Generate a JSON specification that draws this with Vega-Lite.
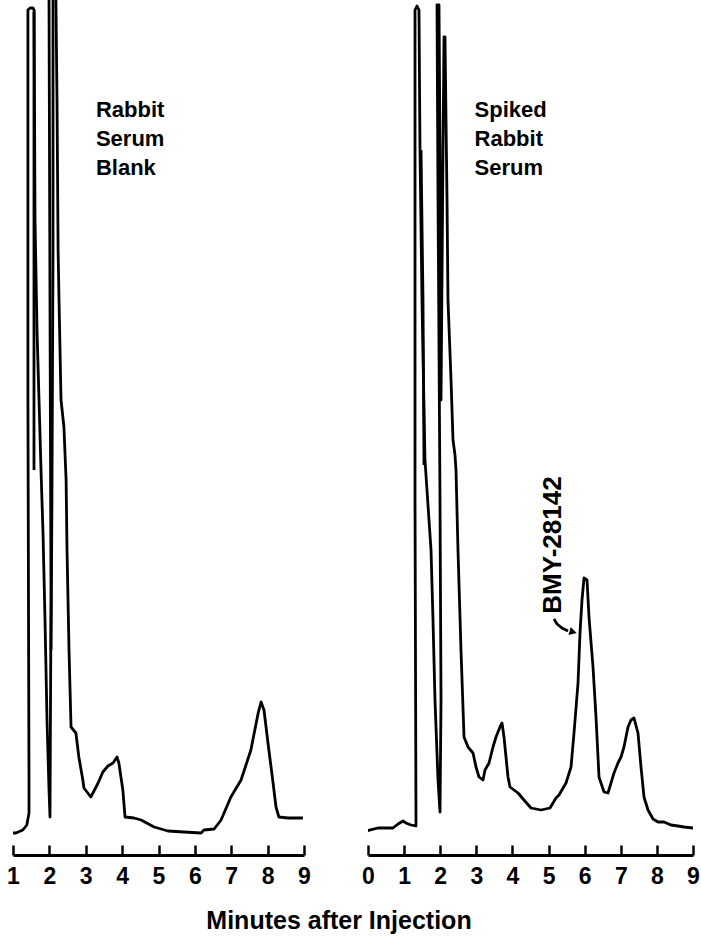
{
  "$schema": "https://vega.github.io/schema/vega-lite/v6.json",
  "padding": {"left": 6, "top": 0, "right": 0, "bottom": 0},
  "background": "white",
  "config": {
    "view": {"stroke": null},
    "axis": {
      "grid": false,
      "domainColor": "black",
      "domainWidth": 3,
      "tickColor": "black",
      "tickWidth": 2.5,
      "tickSize": -10,
      "labelFont": "Liberation Sans",
      "labelFontSize": 23,
      "labelFontWeight": "bold",
      "labelColor": "black",
      "labelPadding": 20,
      "labelFlush": false,
      "labelOverlap": false,
      "title": null
    }
  },
  "title": {
    "text": "Minutes after Injection",
    "orient": "bottom",
    "anchor": "middle",
    "font": "Liberation Sans",
    "fontSize": 25,
    "fontWeight": "bold",
    "color": "black",
    "offset": 21,
    "dx": -14
  },
  "datasets": {
    "blank": [
      {"seg": "m", "i": 1, "t": 0.86, "r": 22},
      {"seg": "m", "i": 2, "t": 1.08, "r": 22},
      {"seg": "m", "i": 3, "t": 1.27, "r": 25},
      {"seg": "m", "i": 4, "t": 1.38, "r": 30},
      {"seg": "m", "i": 5, "t": 1.44, "r": 42},
      {"seg": "m", "i": 6, "t": 1.44, "r": 72},
      {"seg": "m", "i": 7, "t": 1.41, "r": 455},
      {"seg": "m", "i": 8, "t": 1.41, "r": 845},
      {"seg": "m", "i": 9, "t": 1.47, "r": 847},
      {"seg": "m", "i": 10, "t": 1.55, "r": 847},
      {"seg": "m", "i": 11, "t": 1.58, "r": 845},
      {"seg": "m", "i": 12, "t": 1.605, "r": 635},
      {"seg": "m", "i": 13, "t": 1.66, "r": 525},
      {"seg": "m", "i": 14, "t": 1.715, "r": 455},
      {"seg": "m", "i": 15, "t": 1.77, "r": 385},
      {"seg": "m", "i": 16, "t": 1.825, "r": 322},
      {"seg": "m", "i": 17, "t": 1.88, "r": 235},
      {"seg": "m", "i": 18, "t": 1.935, "r": 135},
      {"seg": "m", "i": 19, "t": 1.99, "r": 65},
      {"seg": "m", "i": 20, "t": 2.017, "r": 38},
      {"seg": "m", "i": 21, "t": 2.045, "r": 255},
      {"seg": "m", "i": 22, "t": 2.017, "r": 555},
      {"seg": "m", "i": 23, "t": 1.99, "r": 855},
      {"seg": "m", "i": 24, "t": 1.99, "r": 885},
      {"seg": "m", "i": 25, "t": 2.18, "r": 885},
      {"seg": "m", "i": 26, "t": 2.18, "r": 855},
      {"seg": "m", "i": 27, "t": 2.21, "r": 755},
      {"seg": "m", "i": 28, "t": 2.24, "r": 605},
      {"seg": "m", "i": 29, "t": 2.265, "r": 555},
      {"seg": "m", "i": 30, "t": 2.32, "r": 455},
      {"seg": "m", "i": 31, "t": 2.40, "r": 428},
      {"seg": "m", "i": 32, "t": 2.46, "r": 375},
      {"seg": "m", "i": 33, "t": 2.485, "r": 305},
      {"seg": "m", "i": 34, "t": 2.54, "r": 205},
      {"seg": "m", "i": 35, "t": 2.595, "r": 128},
      {"seg": "m", "i": 36, "t": 2.73, "r": 122},
      {"seg": "m", "i": 37, "t": 2.81, "r": 98},
      {"seg": "m", "i": 38, "t": 2.92, "r": 75},
      {"seg": "m", "i": 39, "t": 2.95, "r": 67},
      {"seg": "m", "i": 40, "t": 3.14, "r": 58},
      {"seg": "m", "i": 41, "t": 3.34, "r": 72},
      {"seg": "m", "i": 42, "t": 3.47, "r": 83},
      {"seg": "m", "i": 43, "t": 3.61, "r": 89},
      {"seg": "m", "i": 44, "t": 3.75, "r": 92},
      {"seg": "m", "i": 45, "t": 3.86, "r": 98},
      {"seg": "m", "i": 46, "t": 3.91, "r": 92},
      {"seg": "m", "i": 47, "t": 4.02, "r": 65},
      {"seg": "m", "i": 48, "t": 4.08, "r": 38},
      {"seg": "m", "i": 49, "t": 4.33, "r": 37},
      {"seg": "m", "i": 50, "t": 4.52, "r": 35},
      {"seg": "m", "i": 51, "t": 4.88, "r": 28},
      {"seg": "m", "i": 52, "t": 5.26, "r": 24},
      {"seg": "m", "i": 53, "t": 5.70, "r": 23},
      {"seg": "m", "i": 54, "t": 6.17, "r": 22},
      {"seg": "m", "i": 55, "t": 6.25, "r": 25},
      {"seg": "m", "i": 56, "t": 6.53, "r": 26},
      {"seg": "m", "i": 57, "t": 6.72, "r": 35},
      {"seg": "m", "i": 58, "t": 6.99, "r": 58},
      {"seg": "m", "i": 59, "t": 7.27, "r": 75},
      {"seg": "m", "i": 60, "t": 7.54, "r": 105},
      {"seg": "m", "i": 61, "t": 7.74, "r": 142},
      {"seg": "m", "i": 62, "t": 7.82, "r": 153},
      {"seg": "m", "i": 63, "t": 7.90, "r": 145},
      {"seg": "m", "i": 64, "t": 8.01, "r": 112},
      {"seg": "m", "i": 65, "t": 8.15, "r": 72},
      {"seg": "m", "i": 66, "t": 8.23, "r": 48},
      {"seg": "m", "i": 67, "t": 8.31, "r": 38},
      {"seg": "m", "i": 68, "t": 8.56, "r": 37},
      {"seg": "m", "i": 69, "t": 8.97, "r": 37},
      {"seg": "p1b", "i": 1, "t": 1.577, "r": 843},
      {"seg": "p1b", "i": 2, "t": 1.577, "r": 385},
      {"seg": "p2b", "i": 1, "t": 2.10, "r": 885},
      {"seg": "p2b", "i": 2, "t": 2.10, "r": 605},
      {"seg": "p2b", "i": 3, "t": 2.07, "r": 355},
      {"seg": "p2b", "i": 4, "t": 2.045, "r": 205}
    ],
    "spiked": [
      {"seg": "m", "i": 1, "t": -0.055, "r": 24},
      {"seg": "m", "i": 2, "t": 0.277, "r": 27},
      {"seg": "m", "i": 3, "t": 0.692, "r": 27},
      {"seg": "m", "i": 4, "t": 0.831, "r": 31},
      {"seg": "m", "i": 5, "t": 0.969, "r": 34},
      {"seg": "m", "i": 6, "t": 1.052, "r": 32},
      {"seg": "m", "i": 7, "t": 1.191, "r": 30},
      {"seg": "m", "i": 8, "t": 1.329, "r": 29},
      {"seg": "m", "i": 9, "t": 1.302, "r": 355},
      {"seg": "m", "i": 10, "t": 1.302, "r": 845},
      {"seg": "m", "i": 11, "t": 1.357, "r": 849},
      {"seg": "m", "i": 12, "t": 1.412, "r": 845},
      {"seg": "m", "i": 13, "t": 1.440, "r": 705},
      {"seg": "m", "i": 14, "t": 1.495, "r": 555},
      {"seg": "m", "i": 15, "t": 1.578, "r": 395},
      {"seg": "m", "i": 16, "t": 1.689, "r": 335},
      {"seg": "m", "i": 17, "t": 1.745, "r": 305},
      {"seg": "m", "i": 18, "t": 1.800, "r": 235},
      {"seg": "m", "i": 19, "t": 1.855, "r": 155},
      {"seg": "m", "i": 20, "t": 1.939, "r": 75},
      {"seg": "m", "i": 21, "t": 1.994, "r": 43},
      {"seg": "m", "i": 22, "t": 2.022, "r": 155},
      {"seg": "m", "i": 23, "t": 1.994, "r": 355},
      {"seg": "m", "i": 24, "t": 1.939, "r": 655},
      {"seg": "m", "i": 25, "t": 1.911, "r": 850},
      {"seg": "m", "i": 26, "t": 1.966, "r": 850},
      {"seg": "m", "i": 27, "t": 1.994, "r": 705},
      {"seg": "m", "i": 28, "t": 2.022, "r": 455},
      {"seg": "m", "i": 29, "t": 2.077, "r": 705},
      {"seg": "m", "i": 30, "t": 2.105, "r": 818},
      {"seg": "m", "i": 31, "t": 2.132, "r": 818},
      {"seg": "m", "i": 32, "t": 2.188, "r": 655},
      {"seg": "m", "i": 33, "t": 2.215, "r": 555},
      {"seg": "m", "i": 34, "t": 2.299, "r": 475},
      {"seg": "m", "i": 35, "t": 2.354, "r": 415},
      {"seg": "m", "i": 36, "t": 2.409, "r": 400},
      {"seg": "m", "i": 37, "t": 2.437, "r": 385},
      {"seg": "m", "i": 38, "t": 2.492, "r": 305},
      {"seg": "m", "i": 39, "t": 2.575, "r": 205},
      {"seg": "m", "i": 40, "t": 2.659, "r": 118},
      {"seg": "m", "i": 41, "t": 2.769, "r": 108},
      {"seg": "m", "i": 42, "t": 2.908, "r": 102},
      {"seg": "m", "i": 43, "t": 2.991, "r": 88},
      {"seg": "m", "i": 44, "t": 3.074, "r": 78},
      {"seg": "m", "i": 45, "t": 3.185, "r": 75},
      {"seg": "m", "i": 46, "t": 3.240, "r": 85},
      {"seg": "m", "i": 47, "t": 3.351, "r": 92},
      {"seg": "m", "i": 48, "t": 3.462, "r": 108},
      {"seg": "m", "i": 49, "t": 3.545, "r": 118},
      {"seg": "m", "i": 50, "t": 3.655, "r": 128},
      {"seg": "m", "i": 51, "t": 3.711, "r": 132},
      {"seg": "m", "i": 52, "t": 3.766, "r": 118},
      {"seg": "m", "i": 53, "t": 3.877, "r": 78},
      {"seg": "m", "i": 54, "t": 3.932, "r": 68},
      {"seg": "m", "i": 55, "t": 4.154, "r": 62},
      {"seg": "m", "i": 56, "t": 4.320, "r": 55},
      {"seg": "m", "i": 57, "t": 4.514, "r": 47},
      {"seg": "m", "i": 58, "t": 4.791, "r": 45},
      {"seg": "m", "i": 59, "t": 5.040, "r": 47},
      {"seg": "m", "i": 60, "t": 5.206, "r": 57},
      {"seg": "m", "i": 61, "t": 5.289, "r": 60},
      {"seg": "m", "i": 62, "t": 5.483, "r": 72},
      {"seg": "m", "i": 63, "t": 5.622, "r": 88},
      {"seg": "m", "i": 64, "t": 5.705, "r": 122},
      {"seg": "m", "i": 65, "t": 5.816, "r": 172},
      {"seg": "m", "i": 66, "t": 5.871, "r": 222},
      {"seg": "m", "i": 67, "t": 5.926, "r": 255},
      {"seg": "m", "i": 68, "t": 5.982, "r": 277},
      {"seg": "m", "i": 69, "t": 6.065, "r": 275},
      {"seg": "m", "i": 70, "t": 6.120, "r": 238},
      {"seg": "m", "i": 71, "t": 6.231, "r": 188},
      {"seg": "m", "i": 72, "t": 6.314, "r": 138},
      {"seg": "m", "i": 73, "t": 6.397, "r": 78},
      {"seg": "m", "i": 74, "t": 6.536, "r": 63},
      {"seg": "m", "i": 75, "t": 6.646, "r": 62},
      {"seg": "m", "i": 76, "t": 6.729, "r": 72},
      {"seg": "m", "i": 77, "t": 6.812, "r": 82},
      {"seg": "m", "i": 78, "t": 6.923, "r": 92},
      {"seg": "m", "i": 79, "t": 7.006, "r": 98},
      {"seg": "m", "i": 80, "t": 7.089, "r": 108},
      {"seg": "m", "i": 81, "t": 7.200, "r": 128},
      {"seg": "m", "i": 82, "t": 7.283, "r": 135},
      {"seg": "m", "i": 83, "t": 7.366, "r": 137},
      {"seg": "m", "i": 84, "t": 7.477, "r": 122},
      {"seg": "m", "i": 85, "t": 7.560, "r": 88},
      {"seg": "m", "i": 86, "t": 7.643, "r": 58},
      {"seg": "m", "i": 87, "t": 7.754, "r": 45},
      {"seg": "m", "i": 88, "t": 7.893, "r": 36},
      {"seg": "m", "i": 89, "t": 8.031, "r": 33},
      {"seg": "m", "i": 90, "t": 8.197, "r": 33},
      {"seg": "m", "i": 91, "t": 8.391, "r": 30},
      {"seg": "m", "i": 92, "t": 8.585, "r": 29},
      {"seg": "m", "i": 93, "t": 8.751, "r": 28},
      {"seg": "m", "i": 94, "t": 9.0, "r": 27},
      {"seg": "p1b", "i": 1, "t": 1.468, "r": 705},
      {"seg": "p1b", "i": 2, "t": 1.523, "r": 555},
      {"seg": "p1b", "i": 3, "t": 1.551, "r": 390},
      {"seg": "arrow", "i": 1, "t": 5.151, "r": 236},
      {"seg": "arrow", "i": 2, "t": 5.234, "r": 231},
      {"seg": "arrow", "i": 3, "t": 5.372, "r": 227},
      {"seg": "arrow", "i": 4, "t": 5.539, "r": 224}
    ],
    "blankLabel": [{"t": 3.28, "r": 738, "label": "Rabbit\nSerum\nBlank"}],
    "spikedLabel": [{"t": 2.95, "r": 738, "label": "Spiked\nRabbit\nSerum"}],
    "peakLabel": [{"t": 5.123, "r": 310, "label": "BMY-28142"}],
    "arrowHead": [{"t": 5.68, "r": 223}]
  },
  "bounds": "flush",
  "spacing": 64,
  "hconcat": [
    {
      "width": 291,
      "height": 855,
      "encoding": {
        "x": {"field": "t", "type": "quantitative", "scale": {"domain": [1, 9], "nice": false, "zero": false}, "axis": {"values": [1, 2, 3, 4, 5, 6, 7, 8, 9], "tickCount": 9, "labelOverlap": false, "format": "d"}},
        "y": {"field": "r", "type": "quantitative", "scale": {"domain": [0, 855], "nice": false}, "axis": null}
      },
      "layer": [
        {
          "data": {"name": "blank"},
          "mark": {"type": "line", "color": "black", "strokeWidth": 2.8, "clip": true, "strokeJoin": "round"},
          "encoding": {
            "detail": {"field": "seg"},
            "order": {"field": "i"}
          }
        },
        {
          "data": {"name": "blankLabel"},
          "mark": {"type": "text", "align": "left", "baseline": "alphabetic", "font": "Liberation Sans", "fontSize": 22, "fontWeight": "bold", "lineBreak": "\n", "lineHeight": 29, "color": "black"},
          "encoding": {
            "text": {"field": "label"}
          }
        }
      ]
    },
    {
      "width": 325,
      "height": 855,
      "encoding": {
        "x": {"field": "t", "type": "quantitative", "scale": {"domain": [0, 9], "nice": false, "zero": false}, "axis": {"values": [0, 1, 2, 3, 4, 5, 6, 7, 8, 9], "tickCount": 10, "labelOverlap": false, "format": "d"}},
        "y": {"field": "r", "type": "quantitative", "scale": {"domain": [0, 855], "nice": false}, "axis": null}
      },
      "layer": [
        {
          "data": {"name": "spiked"},
          "mark": {"type": "line", "color": "black", "strokeWidth": 2.8, "clip": true, "strokeJoin": "round"},
          "encoding": {
            "detail": {"field": "seg"},
            "order": {"field": "i"}
          }
        },
        {
          "data": {"name": "spikedLabel"},
          "mark": {"type": "text", "align": "left", "baseline": "alphabetic", "font": "Liberation Sans", "fontSize": 22, "fontWeight": "bold", "lineBreak": "\n", "lineHeight": 29, "color": "black"},
          "encoding": {
            "text": {"field": "label"}
          }
        },
        {
          "data": {"name": "peakLabel"},
          "mark": {"type": "text", "align": "center", "baseline": "middle", "angle": 270, "font": "Liberation Sans", "fontSize": 26, "fontWeight": "bold", "color": "black"},
          "encoding": {
            "text": {"field": "label"}
          }
        },
        {
          "data": {"name": "arrowHead"},
          "mark": {"type": "point", "shape": "triangle-right", "filled": true, "color": "black", "size": 70, "angle": 15, "opacity": 1}
        }
      ]
    }
  ]
}
